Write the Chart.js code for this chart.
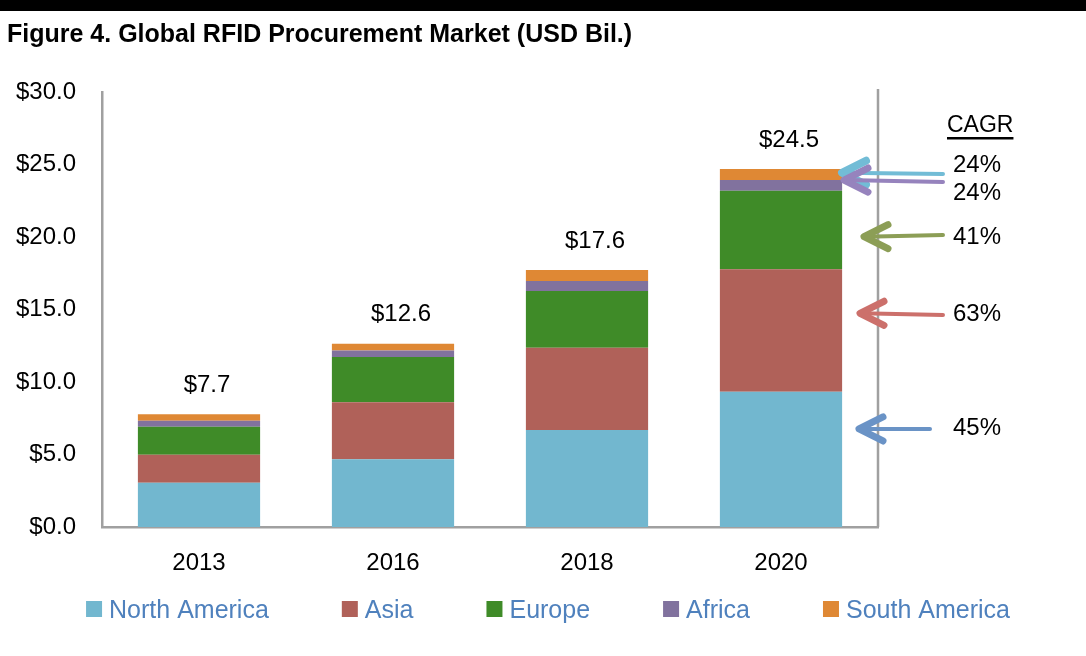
<!DOCTYPE html>
<html>
<head>
<meta charset="utf-8">
<script src="https://cdn.jsdelivr.net/npm/chart.js@4.4.1/dist/chart.umd.min.js"></script>
<style>
  html, body { margin: 0; padding: 0; background: #fff; }
  #wrap { width: 1086px; height: 656px; }
</style>
</head>
<body>
<div id="wrap"><canvas id="chart" width="1086" height="656"></canvas></div>
<script>
// values in USD billions
const years = ['2013', '2016', '2018', '2020'];
const northAmerica = [3.05, 4.67, 6.69, 9.33];
const asia = [1.94, 3.93, 5.68, 8.44];
const europe = [1.93, 3.12, 3.91, 5.42];
const africa = [0.41, 0.45, 0.69, 0.74];
const southAmerica = [0.44, 0.47, 0.75, 0.76];
const totalLabels = ['$7.7', '$12.6', '$17.6', '$24.5'];
const yTickLabels = ['$0.0', '$5.0', '$10.0', '$15.0', '$20.0', '$25.0', '$30.0'];
// CAGR by region, top of the list first
const cagrRegions = ['South America', 'Africa', 'Europe', 'Asia', 'North America'];
const cagrLabels = ['24%', '24%', '41%', '63%', '45%'];

const FONT = '"Liberation Sans", Arial, sans-serif';
const colors = {
  'North America': '#72b7cf',
  'Asia': '#b06159',
  'Europe': '#3f8b28',
  'Africa': '#81729e',
  'South America': '#df8834'
};
const arrowColors = {
  'South America': '#72bcd6',
  'Africa': '#9683bd',
  'Europe': '#8c9e56',
  'Asia': '#cc706b',
  'North America': '#6a93c6'
};
// arrow geometry: tip/end in y-axis units, x offsets from the plot's right edge
const arrowShape = {
  'South America': { tipV: 24.43, endV: 24.34, tipDx: -38, endX: 943, w: 8 },
  'Africa': { tipV: 23.93, endV: 23.79, tipDx: -36, endX: 943, w: 7 },
  'Europe': { tipV: 20.02, endV: 20.14, tipDx: -16, endX: 943, w: 7 },
  'Asia': { tipV: 14.74, endV: 14.62, tipDx: -20, endX: 943, w: 7 },
  'North America': { tipV: 6.76, endV: 6.76, tipDx: -21, endX: 930, w: 7 }
};
const cagrTextY = [165, 193, 237, 314, 428];

const decor = {
  id: 'decor',
  afterDraw(chart) {
    const ctx = chart.ctx;
    const area = chart.chartArea;
    const xs = chart.scales.x, ys = chart.scales.y;
    ctx.save();

    // black band and title
    ctx.fillStyle = '#000';
    ctx.fillRect(0, 0, chart.width, 11);
    ctx.font = 'bold 25px ' + FONT;
    ctx.textAlign = 'left';
    ctx.textBaseline = 'alphabetic';
    ctx.fillText('Figure 4. Global RFID Procurement Market (USD Bil.)', 7, 42);
    ctx.textBaseline = 'middle';

    // right frame line
    ctx.strokeStyle = '#a0a0a0';
    ctx.lineWidth = 2.5;
    ctx.beginPath();
    ctx.moveTo(area.right, area.top - 3);
    ctx.lineTo(area.right, area.bottom);
    ctx.stroke();

    // totals above each stack
    ctx.fillStyle = '#000';
    ctx.font = '24px ' + FONT;
    ctx.textAlign = 'center';
    years.forEach((yr, i) => {
      const sum = chart.data.datasets.reduce((s, d) => s + d.data[i], 0);
      ctx.fillText(totalLabels[i], xs.getPixelForValue(i) + 8, ys.getPixelForValue(sum) - 29);
    });

    // CAGR header
    ctx.textAlign = 'left';
    ctx.font = '23px ' + FONT;
    ctx.fillText('CAGR', 947, 126);
    const cw = ctx.measureText('CAGR').width;
    ctx.fillRect(947, 137, cw, 2.5);
    ctx.font = '24px ' + FONT;

    // arrows + percentages
    ctx.lineCap = 'round';
    ctx.lineJoin = 'round';
    cagrRegions.forEach((reg, i) => {
      const a = arrowShape[reg];
      const tipX = area.right + a.tipDx;
      const tipY = ys.getPixelForValue(a.tipV);
      const endY = ys.getPixelForValue(a.endV);
      ctx.strokeStyle = arrowColors[reg];
      ctx.lineWidth = 4;
      ctx.beginPath();
      ctx.moveTo(tipX + 3, tipY);
      ctx.lineTo(a.endX, endY);
      ctx.stroke();
      ctx.lineWidth = a.w;
      ctx.beginPath();
      ctx.moveTo(tipX + 26, tipY - 12);
      ctx.lineTo(tipX + 2, tipY);
      ctx.lineTo(tipX + 26, tipY + 12);
      ctx.stroke();
      ctx.fillStyle = '#000';
      ctx.fillText(cagrLabels[i], 953, cagrTextY[i]);
    });

    // legend
    const items = chart.data.datasets.map(d => ({ text: d.label, color: d.backgroundColor }));
    ctx.font = '25px ' + FONT;
    const box = 16, gapText = 7, gapItem = 73;
    const widths = items.map(it => box + gapText + ctx.measureText(it.text).width);
    const total = widths.reduce((s, w) => s + w, 0) + gapItem * (items.length - 1);
    let lx = chart.width / 2 + 5 - total / 2;
    const ly = 610;
    items.forEach((it, i) => {
      ctx.fillStyle = it.color;
      ctx.fillRect(lx, ly - 9, box, box);
      ctx.fillStyle = '#4f81bd';
      ctx.fillText(it.text, lx + box + gapText, ly + 1);
      lx += widths[i] + gapItem;
    });

    ctx.restore();
  }
};

const series = [
  ['North America', northAmerica],
  ['Asia', asia],
  ['Europe', europe],
  ['Africa', africa],
  ['South America', southAmerica]
];

new Chart(document.getElementById('chart'), {
  type: 'bar',
  data: {
    labels: years,
    datasets: series.map(([name, vals]) => ({
      label: name,
      data: vals,
      backgroundColor: colors[name],
      borderWidth: 0,
      barPercentage: 0.63,
      categoryPercentage: 1.0
    }))
  },
  options: {
    responsive: false,
    animation: false,
    devicePixelRatio: 1,
    layout: { padding: { top: 92, right: 208, bottom: 69, left: 0 } },
    plugins: {
      legend: { display: false },
      title: { display: false },
      tooltip: { enabled: false }
    },
    scales: {
      x: {
        stacked: true,
        afterFit(s) { s.height = 60; },
        grid: { display: false, drawTicks: false },
        border: { color: '#a0a0a0', width: 2.5 },
        ticks: { padding: 22, color: '#000', font: { family: FONT, size: 24 } }
      },
      y: {
        stacked: true,
        min: 0,
        max: 30,
        afterFit(s) { s.width = 102; },
        grid: { display: false, drawTicks: false },
        border: { color: '#a0a0a0', width: 2.5 },
        ticks: {
          stepSize: 5,
          padding: 26,
          color: '#000',
          font: { family: FONT, size: 24 },
          callback: (v, i) => yTickLabels[i]
        }
      }
    }
  },
  plugins: [decor]
});
</script>
</body>
</html>
